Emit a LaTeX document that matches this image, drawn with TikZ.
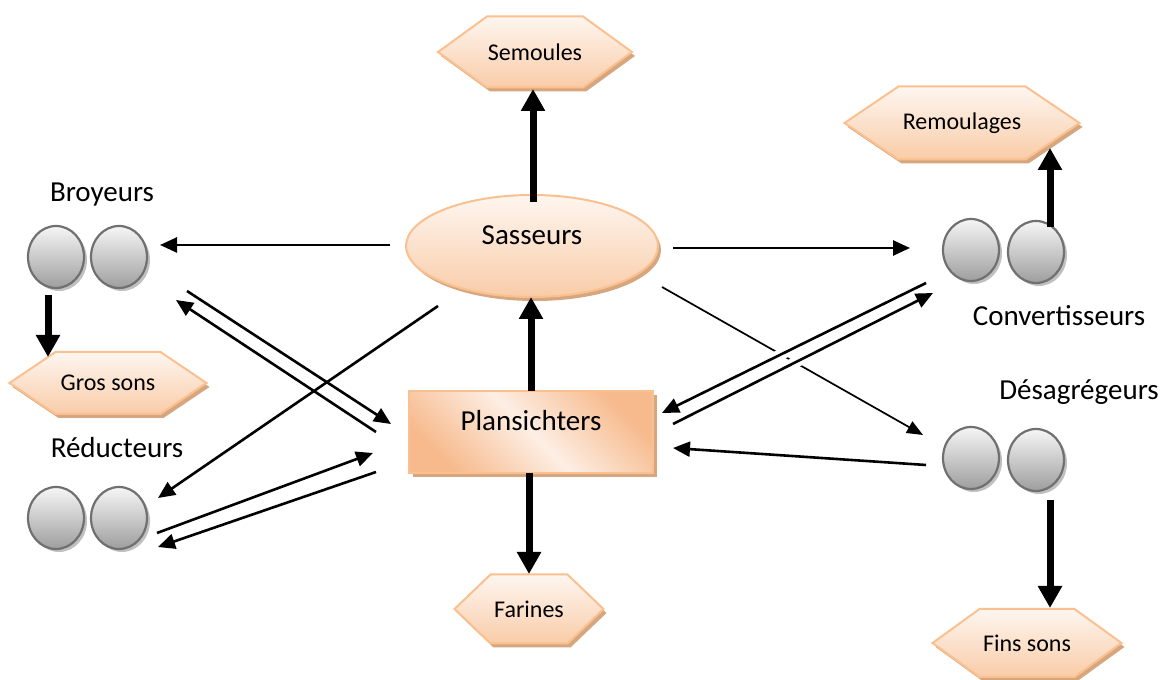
\documentclass[tikz,border=0pt]{standalone}
\usepackage{fontspec}
\setmainfont{Carlito}
\usetikzlibrary{arrows.meta,calc,shadows,shapes.geometric}
\definecolor{peachline}{RGB}{250,192,143}
\definecolor{peachtop}{RGB}{254,246,240}
\definecolor{peachbot}{RGB}{249,204,168}
\definecolor{peachdeep}{RGB}{247,186,140}
\definecolor{peachlight}{RGB}{253,238,228}
\definecolor{peachshadow}{RGB}{214,166,126}
\definecolor{rollline}{RGB}{112,112,112}
\definecolor{rolltop}{RGB}{246,246,246}
\definecolor{rollbot}{RGB}{158,158,158}
\definecolor{rollshadow}{RGB}{192,192,192}
\tikzset{
  bigtext/.style={font=\fontsize{29}{34}\selectfont},
  smalltext/.style={font=\fontsize{24}{28}\selectfont},
  roller/.style={ellipse, draw=rollline, line width=2.2pt, top color=rolltop,
    bottom color=rollbot, minimum width=56pt, minimum height=62pt, inner sep=0pt,
    drop shadow={shadow xshift=3pt, shadow yshift=-3pt, fill=rollshadow, opacity=1}},
  hexshadow/.style={fill=peachshadow},
  hexfill/.style={draw=peachline, line width=2pt, top color=peachtop, bottom color=peachbot},
  thickarrow/.style={line width=7pt, -{Triangle[width=23pt,length=22pt]}},
  thinarrow/.style={line width=2.6pt, -{Triangle[width=15pt,length=17pt]}},
  finearrow/.style={line width=1.7pt, -{Triangle[width=13pt,length=16pt]}},
  gapline/.style={preaction={draw=white, line width=11pt, arrows=-}}
}
\newcommand\hexbox[6]{% name, center, half width, half height, inset, text
  \begin{scope}[shift={#2}]
    \fill[hexshadow, shift={(3,-4)}] (-#3,0) -- (-#3+#5,#4) -- (#3-#5,#4) -- (#3,0)
      -- (#3-#5,-#4) -- (-#3+#5,-#4) -- cycle;
    \shadedraw[hexfill] (-#3,0) -- (-#3+#5,#4) -- (#3-#5,#4) -- (#3,0)
      -- (#3-#5,-#4) -- (-#3+#5,-#4) -- cycle;
  \end{scope}
  \node[smalltext] (#1) at #2 {#6};
}
\begin{document}
\begin{tikzpicture}[x=1pt, y=1pt]
\useasboundingbox (0,0) rectangle (1162,680);

% product hexagons
\hexbox{sem}{(535,628)}{97}{35.5}{49}{Semoules}
\hexbox{rem}{(962,557)}{117.5}{36.5}{54}{Remoulages}
\hexbox{far}{(529,71)}{74.5}{34.5}{36}{Farines}
\hexbox{gros}{(108,297)}{98.5}{31}{46}{Gros sons}
\hexbox{fins}{(1027,37)}{94.5}{34}{47}{Fins sons}

% main machines
\node[ellipse, bigtext, minimum width=252pt, minimum height=102pt, inner sep=0pt,
  draw=peachline, line width=2pt, top color=peachtop, bottom color=peachbot,
  text height=20pt, text depth=22pt,
  drop shadow={shadow xshift=3pt, shadow yshift=-4pt, fill=peachshadow, opacity=1}]
  (sas) at (532,434) {Sasseurs};
\node[rectangle, bigtext, minimum width=244pt, minimum height=82pt, inner sep=0pt,
  draw=peachline, line width=1.5pt,
  left color=peachdeep, right color=peachdeep, middle color=peachlight, shading angle=135,
  text height=20pt, text depth=22pt,
  drop shadow={shadow xshift=4pt, shadow yshift=-4pt, fill=peachshadow, opacity=1}]
  (pla) at (531,248) {Plansichters};

% roller pairs
\node[roller] (b1) at (56,423) {};
\node[roller] (b2) at (119,423) {};
\node[roller] (r1) at (56,162) {};
\node[roller] (r2) at (119,162) {};
\node[roller] (c1) at (971,430) {};
\node[roller] (c2) at (1036,428) {};
\node[roller] (d1) at (971,222) {};
\node[roller] (d2) at (1036,220) {};

% labels
\node[bigtext] (lb) at (102,485) {Broyeurs};
\node[bigtext] (lr) at (117,232) {Réducteurs};
\node[bigtext] (lc) at (1059,364) {Convertisseurs};
\node[bigtext] (ld) at (1079,288) {Désagrégeurs};

% thick arrows
\draw[thickarrow] ($(sas)+(1,44)$) -- ($(sem)+(-2,-37)$);
\draw[thickarrow] ($(pla)+(0,41)$) -- ($(sas)+(-1,-51)$);
\draw[thickarrow] ($(pla)+(-2,-41)$) -- ($(far)+(0,35)$);
\draw[thickarrow] ($(b1)+(-8,-38)$) -- ($(gros)+(-60,26)$);
\draw[thickarrow] ($(c2)+(14,25)$) -- ($(rem)+(88,-25)$);
\draw[thickarrow] ($(d2)+(14,-40)$) -- ($(fins)+(23,35)$);

% thin arrows
\draw[thinarrow] ($(sas)+(-142,1)$) -- ($(b2)+(41,12)$);
\draw[thinarrow] ($(sas)+(141,-2)$) -- ($(c1)+(-61,2)$);
\draw[finearrow] ($(sas)+(130,-41)$) -- ($(d1)+(-48,23)$);
\draw[thinarrow, gapline] ($(c1)+(-45,-33)$) -- ($(pla)+(131,19)$);
\draw[thinarrow, gapline] ($(pla)+(142,8)$) -- ($(c1)+(-38,-43)$);
\draw[thinarrow] ($(d1)+(-45,-7)$) -- ($(pla)+(142,-16)$);
\draw[thinarrow] ($(b2)+(68,-34)$) -- ($(pla)+(-140,8)$);
\draw[thinarrow] ($(pla)+(-155,0)$) -- ($(b2)+(57,-43)$);
\draw[thinarrow] ($(sas)+(-94,-60)$) -- ($(r2)+(39,20)$);
\draw[thinarrow] ($(r2)+(38,-15)$) -- ($(pla)+(-158,-21)$);
\draw[thinarrow] ($(pla)+(-155,-40)$) -- ($(r2)+(39,-29)$);
\end{tikzpicture}
\end{document}
